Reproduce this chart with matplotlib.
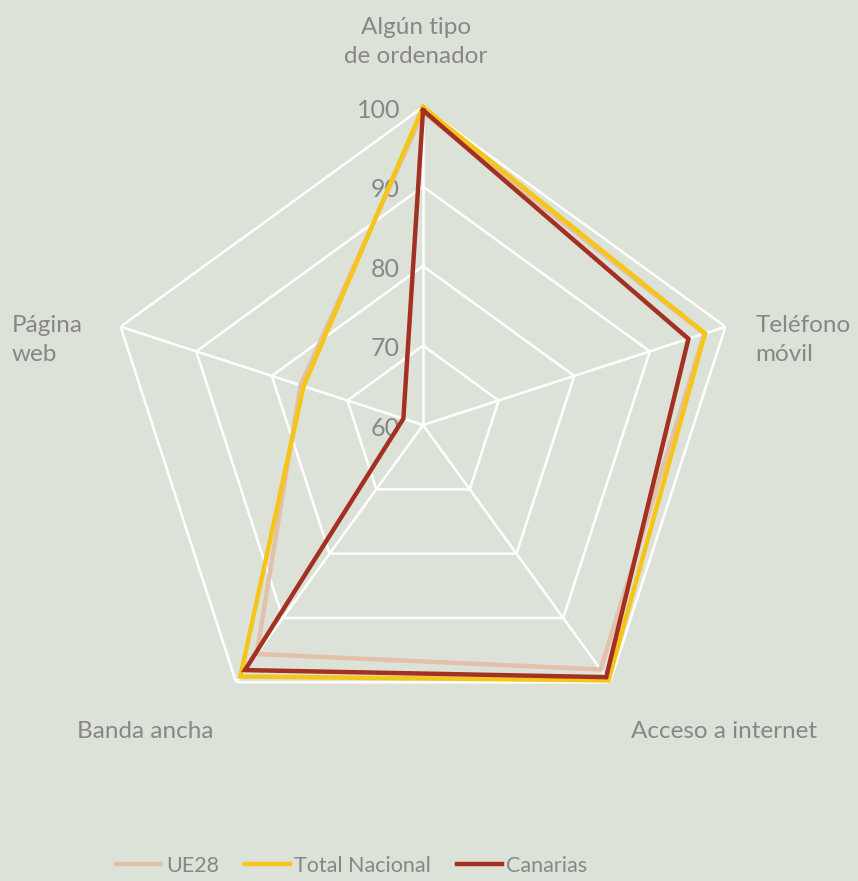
import numpy as np
import matplotlib.pyplot as plt

plt.rcParams['font.family'] = ['Lato', 'DejaVu Sans']

categories = ['Algún tipo\nde ordenador', 'Teléfono\nmóvil', 'Acceso a internet',
              'Banda ancha', 'Página\nweb']
ue28 = [99.3, 97.2, 98.0, 95.6, 76.2]
total = [100.0, 97.3, 99.7, 99.1, 75.8]
canarias = [99.6, 95.1, 99.2, 98.1, 62.6]
rings = [60, 70, 80, 90, 100]

bg = '#dde2d9'
grey = '#878787'

fig = plt.figure(figsize=(8.58, 8.81), dpi=100, facecolor=bg)
ax = fig.add_axes([0.1224, 0.1566, 0.7413, 0.7219], projection='polar')
ax.set_facecolor(bg)
ax.patch.set_alpha(0)
ax.set_theta_offset(np.pi / 2)
ax.set_theta_direction(-1)
ax.set_ylim(60, 100)
ax.grid(False)
ax.spines['polar'].set_visible(False)
ax.set_xticks([])
ax.set_yticks([])

n = len(categories)
ang = np.linspace(0, 2 * np.pi, n, endpoint=False)
ang_c = np.append(ang, ang[0])

# pentagon grid
for r in rings[1:]:
    ax.plot(ang_c, [r] * (n + 1), color='white', lw=1.8, zorder=1)
for a in ang:
    ax.plot([a, a], [60, 100], color='white', lw=1.8, zorder=1)

# ring labels
for r in rings:
    ax.annotate(str(r), xy=(0, r), xytext=(-23, -3), textcoords='offset pixels',
                ha='right', va='center', fontsize=18, color=grey, zorder=2)

series = [('UE28', ue28, '#e3c0aa'), ('Total Nacional', total, '#f5c518'),
          ('Canarias', canarias, '#a33123')]
for name, vals, col in series:
    ax.plot(ang_c, vals + vals[:1], color=col, lw=3.2, label=name, zorder=3,
            solid_joinstyle='miter', clip_on=False)

offsets = [(-7, 65, 'center'), (30, -13, 'left'), (114, -49, 'center'),
           (-91, -49, 'center'), (-109, -13, 'left')]
for a, lab, (dx, dy, ha) in zip(ang, categories, offsets):
    ax.annotate(lab, xy=(a, 100), xytext=(dx, dy), textcoords='offset pixels',
                ha=ha, va='center', fontsize=17.5, color=grey, linespacing=1.5,
                annotation_clip=False)

fig.legend(loc='lower center', bbox_to_anchor=(0.41, -0.016), ncol=3, frameon=False,
           fontsize=15.5, labelcolor=grey, handlelength=2.1, handletextpad=0.2,
           columnspacing=1.2)

fig.savefig('out.png', dpi=100, facecolor=bg)
